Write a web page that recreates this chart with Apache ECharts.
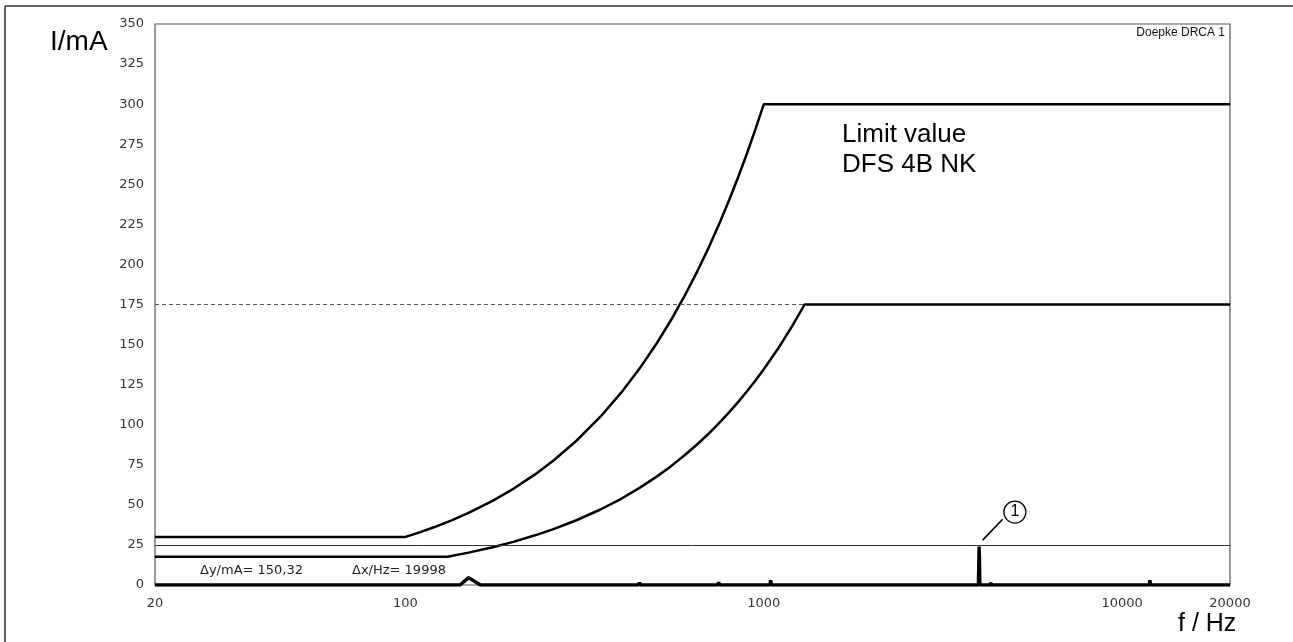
<!DOCTYPE html>
<html>
<head>
<meta charset="utf-8">
<script src="https://cdn.jsdelivr.net/npm/echarts@6/dist/echarts.min.js"></script>
<style>
  html, body { margin: 0; padding: 0; background: #fff; }
  #chart { width: 1293px; height: 642px; }
</style>
</head>
<body>
<div id="chart"></div>
<script>
// Frequency axis range (Hz) and current axis range (mA)
const freqMin = 20;
const freqMax = 20000;
const currentMin = 0;
const currentMax = 350;
const currentStep = 25;

// Upper trip-limit curve [f / Hz, I / mA]
const upperLimit = [
  [20, 30], [100, 30], [110, 33], [120, 36], [135, 40.5], [150, 45], [175, 52.5],
  [200, 60], [230, 69], [260, 78], [300, 90], [350, 105], [400, 120], [450, 135],
  [500, 150], [550, 165], [600, 180], [650, 195], [700, 210], [750, 225],
  [800, 240], [850, 255], [900, 270], [950, 285], [1000, 300], [20000, 300]
];

// Lower limit curve "DFS 4B NK" [f / Hz, I / mA]
const lowerLimit = [
  [20, 17.6], [131, 17.6], [150, 20.2], [175, 23.6], [200, 26.9], [230, 31],
  [260, 35], [300, 40.4], [350, 47.1], [400, 53.8], [450, 60.6], [500, 67.3],
  [550, 74], [600, 80.8], [650, 87.5], [700, 94.2], [750, 101], [800, 107.7],
  [850, 114.4], [900, 121.2], [950, 127.9], [1000, 134.6], [1100, 148],
  [1200, 161.5], [1300, 175], [20000, 175]
];

// Measured residual current spectrum [f / Hz, I / mA]
const spectrum = [
  [20, 0], [50, 0], [50.5, 1], [51, 0], [142, 0], [150, 4.6], [162, 0],
  [447, 0], [450, 1.5], [453, 0], [744, 0], [748, 1.8], [752, 0],
  [1040, 0], [1045, 3], [1050, 0], [1320, 0], [1325, 1], [1330, 0],
  [3690, 0], [3700, 1], [3710, 0], [3972, 0], [3990, 24], [4008, 0],
  [4290, 0], [4300, 1.5], [4310, 0], [5000, 0], [5010, 0.6], [5020, 0],
  [11900, 0], [11950, 3], [12000, 0], [20000, 0]
];

// Reference levels (mA)
const thresholdLevel = 25;
const plateauLevel = 175;
const plateauStartFreq = 1300;

// Marker "1" for the spectral peak: leader from/to and circle centre [f, I]
const peakLeader = [[4080, 28], [4640, 41]];
const peakMarker = [5020, 45.5];

const chart = echarts.init(document.getElementById('chart'), null, { renderer: 'canvas' });

const tickFont = { fontFamily: 'DejaVu Sans', fontSize: 13, color: '#333' };

chart.setOption({
  animation: false,
  backgroundColor: '#ffffff',
  grid: {
    left: 155, right: 63, top: 24, bottom: 57,
    show: true, borderColor: '#555', borderWidth: 1.2,
    backgroundColor: 'transparent',
    outerBoundsMode: 'none'
  },
  xAxis: {
    type: 'log',
    logBase: 10,
    min: freqMin,
    max: freqMax,
    axisLine: { show: false },
    axisTick: { show: false },
    splitLine: { show: false },
    minorTick: { show: false },
    axisLabel: Object.assign({
      margin: 12,
      showMinLabel: true,
      showMaxLabel: true,
      formatter: v => String(Math.round(v))
    }, tickFont)
  },
  yAxis: {
    type: 'value',
    min: currentMin,
    max: currentMax,
    interval: currentStep,
    axisLine: { show: false },
    axisTick: { show: false },
    splitLine: { show: false },
    axisLabel: Object.assign({ margin: 11 }, tickFont)
  },
  series: [
    {
      name: 'upper limit',
      type: 'line',
      data: upperLimit,
      showSymbol: false,
      silent: true,
      lineStyle: { color: '#000', width: 2.5 },
      z: 3
    },
    {
      name: 'DFS 4B NK',
      type: 'line',
      data: lowerLimit,
      showSymbol: false,
      silent: true,
      lineStyle: { color: '#000', width: 2.5 },
      z: 3,
      markLine: {
        silent: true,
        symbol: ['none', 'none'],
        label: { show: false },
        lineStyle: { color: '#555', width: 1, type: [4, 3] },
        data: [[{ coord: [freqMin, plateauLevel] }, { coord: [plateauStartFreq, plateauLevel] }]]
      }
    },
    {
      name: 'spectrum',
      type: 'line',
      data: spectrum,
      showSymbol: false,
      silent: true,
      lineStyle: { color: '#000', width: 3.5 },
      z: 4,
      markLine: {
        silent: true,
        symbol: ['none', 'none'],
        label: { show: false },
        data: [
          [{ coord: [freqMin, thresholdLevel], lineStyle: { color: '#333', width: 1, type: 'solid' } },
           { coord: [freqMax, thresholdLevel] }],
          [{ coord: peakLeader[0], lineStyle: { color: '#000', width: 1.6, type: 'solid' } },
           { coord: peakLeader[1] }]
        ]
      },
      markPoint: {
        silent: true,
        symbol: 'circle',
        symbolSize: 22,
        itemStyle: { color: '#fff', borderColor: '#000', borderWidth: 1.3 },
        label: {
          show: true, position: 'inside', formatter: '1',
          fontFamily: 'Liberation Sans', fontSize: 16, color: '#000'
        },
        data: [{ coord: peakMarker }]
      }
    }
  ],
  graphic: [
    // outer frame (top and left edges)
    { type: 'line', shape: { x1: 5, y1: 6, x2: 1293, y2: 6 }, style: { stroke: '#333', lineWidth: 1.5 } },
    { type: 'line', shape: { x1: 5, y1: 6, x2: 5, y2: 642 }, style: { stroke: '#333', lineWidth: 1.5 } },
    {
      type: 'text', left: 50, top: 28,
      style: { text: 'I/mA', font: '28px "Liberation Sans", Arial, sans-serif', fill: '#000' }
    },
    {
      type: 'text', left: 1178, top: 612,
      style: { text: 'f / Hz', font: '25px "Liberation Sans", Arial, sans-serif', fill: '#000' }
    },
    {
      type: 'text', right: 68, top: 27,
      style: { text: 'Doepke DRCA 1', font: '12px "Liberation Sans", Arial, sans-serif', fill: '#111' }
    },
    {
      type: 'text', left: 842, top: 120,
      style: {
        text: 'Limit value\nDFS 4B NK',
        font: '26px "Liberation Sans", Arial, sans-serif',
        lineHeight: 30, fill: '#000'
      }
    },
    {
      type: 'text', left: 200, top: 564,
      style: { text: 'Δy/mA= 150,32', font: '13px "DejaVu Sans", sans-serif', fill: '#222' }
    },
    {
      type: 'text', left: 352, top: 564,
      style: { text: 'Δx/Hz= 19998', font: '13px "DejaVu Sans", sans-serif', fill: '#222' }
    }
  ]
});
</script>
</body>
</html>
